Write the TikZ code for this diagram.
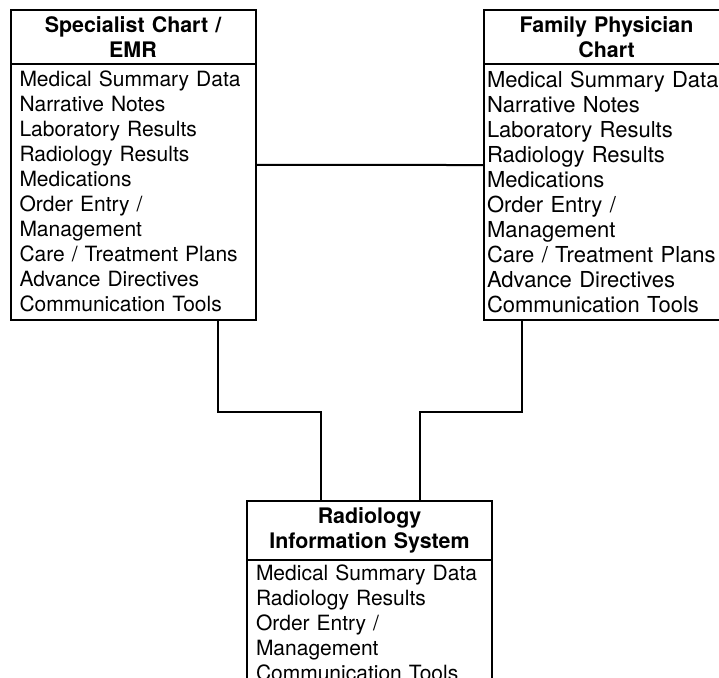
\documentclass[tikz,border=0pt]{standalone}
\usepackage{fontspec}
\setmainfont{TeX Gyre Heros}
\usetikzlibrary{positioning}
\tikzset{
  head/.style={draw,line width=1pt,outer sep=0pt,text width=112.5pt,inner xsep=5pt,align=center,
    minimum height=25.75pt,font=\fontsize{10.7pt}{12.5pt}\selectfont\bfseries},
  list/.style={draw,line width=1pt,outer sep=0pt,text width=113.5pt,inner xsep=4.5pt,inner ysep=2.5pt,align=left,
    font=\fontsize{10.5pt}{12.5pt}\selectfont},
  tall/.style={minimum height=128pt},
  link/.style={line width=1pt}
}
\begin{document}
\begin{tikzpicture}[x=0.5pt,y=-0.5pt]
\useasboundingbox (0,0) rectangle (719,677);

\node[head,anchor=north west] (spec) at (10.5,9.5) {Specialist Chart /\\EMR};
\node[list,tall,below=0pt of spec] (spec list) {Medical Summary Data\\Narrative Notes\\Laboratory Results\\Radiology Results\\Medications\\Order Entry /\\Management\\Care / Treatment Plans\\Advance Directives\\Communication Tools};

\node[head,anchor=north west] (fam) at (484,9.5) {Family Physician\\Chart};
\node[list,tall,below=0pt of fam,inner xsep=1.5pt,text width=119.5pt,font=\fontsize{11pt}{12.5pt}\selectfont] (fam list) {Medical Summary Data\\Narrative Notes\\Laboratory Results\\Radiology Results\\Medications\\Order Entry /\\Management\\Care / Treatment Plans\\Advance Directives\\Communication Tools};

\node[head,anchor=north west] (ris) at (247,501) {Radiology\\Information System};
\node[list,below=0pt of ris] (ris list) {Medical Summary Data\\Radiology Results\\Order Entry /\\Management\\Communication Tools};

\draw[link] ([yshift=-50.5pt]spec list.north east) -- ([yshift=-50.5pt]fam list.north west);
\draw[link] ([xshift=42.5pt]spec list.south) -- ++(0,-46pt) -| ([xshift=-24.25pt]ris.north);
\draw[link] ([xshift=-42.25pt]fam list.south) -- ++(0,-46pt) -| ([xshift=25.25pt]ris.north);
\end{tikzpicture}
\end{document}
